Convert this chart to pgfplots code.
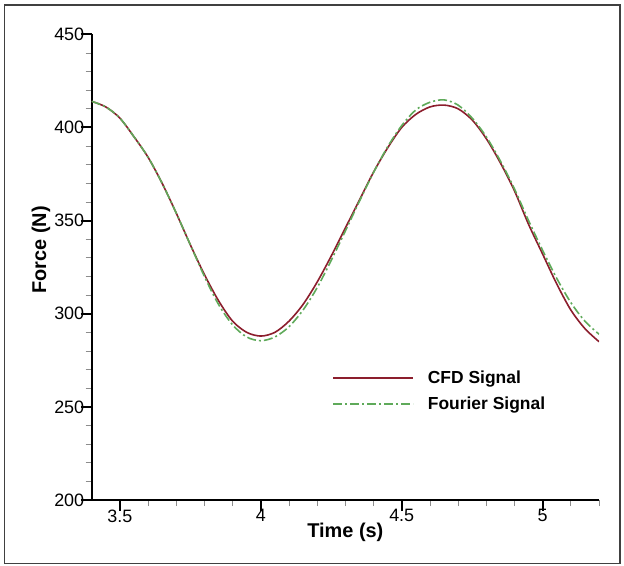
\documentclass[border=0pt]{standalone}
\usepackage{pgfplots}
\pgfplotsset{compat=1.18}
\usepackage{fontspec}
\setmainfont{Liberation Sans}
\definecolor{cfdred}{RGB}{140,30,45}
\definecolor{fourgreen}{RGB}{95,170,90}
\pgfplotstableread{
t v
3.40 414
3.45 411
3.50 405
3.55 395
3.60 384
3.65 370
3.70 354
3.75 337
3.80 321
3.85 307
3.90 296
3.95 290
4.00 288
4.05 290
4.10 296
4.15 305
4.20 317
4.25 331
4.30 346
4.35 361
4.40 376
4.45 389
4.50 400
4.55 407
4.60 411
4.65 412
4.70 410
4.75 404
4.80 394
4.85 381
4.90 366
4.95 348
5.00 332
5.05 316
5.10 302
5.15 292
5.20 285
}\cfd
\pgfplotstableread{
t v
3.40 414
3.45 411
3.50 405
3.55 395
3.60 384
3.65 370
3.70 354
3.75 337
3.80 320
3.85 305
3.90 294
3.95 287.5
4.00 285.5
4.05 287.5
4.10 293
4.15 302
4.20 314
4.25 328.7
4.30 344.4
4.35 360.4
4.40 375.8
4.45 389.6
4.50 401
4.55 409.4
4.60 413.5
4.65 414.8
4.70 412
4.75 405
4.80 395
4.85 382
4.90 367
4.95 350
5.00 334
5.05 319
5.10 306
5.15 296
5.20 289
}\fourier
\begin{document}
\begin{tikzpicture}[x=1bp,y=1bp]
\path[use as bounding box, fill=white] (-91.7,-66) rectangle (532.3,500);
\draw[line width=1.5bp, black!75] (-87.2,-63.5) rectangle (528.3,495);
\begin{axis}[
  at={(0,0)}, anchor=origin,
  scale only axis, width=507.3bp, height=465.7bp,
  xmin=3.4, xmax=5.2, ymin=200, ymax=450,
  axis x line*=bottom, axis y line*=left,
  axis line style={line width=2bp, black},
  xtick={3.5,4,4.5,5}, ytick={200,250,...,450},
  minor xtick={3.6,3.7,3.8,3.9,4.1,4.2,4.3,4.4,4.6,4.7,4.8,4.9,5.1,5.2},
  minor ytick={210,220,230,240,260,270,280,290,310,320,330,340,360,370,380,390,410,420,430,440},
  tick align=outside,
  major tick length=11bp, minor tick length=6bp,
  major tick style={line width=2bp, black},
  minor tick style={line width=0.8bp, black!45},
  /pgf/number format/assume math mode=true,
  tick label style={font=\fontsize{18}{20}\selectfont},
  xticklabel style={yshift=5bp},
  yticklabel style={xshift=7bp},
  xlabel={\bfseries Time (s)}, ylabel={\bfseries Force (N)},
  label style={font=\fontsize{20}{22}\selectfont\bfseries},
  xlabel style={at={(axis description cs:0.5,-0.0687)}, anchor=center},
  ylabel style={at={(axis description cs:-0.1,0.537)}, anchor=center},
  legend style={at={(axis description cs:0.468,0.234)}, anchor=west, draw=none, fill=none,
    font=\fontsize{17.5}{19}\selectfont\bfseries, row sep=8bp},
  legend cell align=left,
  legend image code/.code={\draw[#1] (0bp,0bp) -- (80bp,0bp); \path (92bp,0bp);},
]
\addplot[cfdred, line width=1.6bp, smooth] table[x=t,y=v] {\cfd};
\addlegendentry{CFD Signal}
\addplot[fourgreen, line width=1.6bp, smooth, dash pattern=on 9bp off 3bp on 2bp off 3bp] table[x=t,y=v] {\fourier};
\addlegendentry{Fourier Signal}
\end{axis}
\end{tikzpicture}
\end{document}
